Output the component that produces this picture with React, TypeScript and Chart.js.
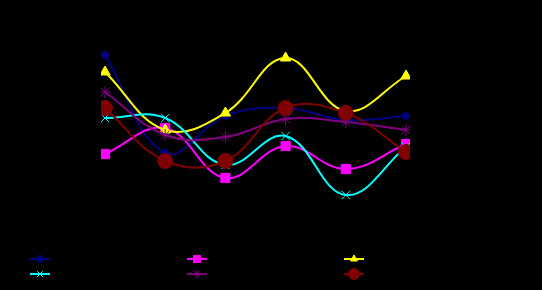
import React, { useEffect, useRef } from "react";
import { Chart, registerables } from "chart.js";
import * as helpers from "chart.js/helpers";

Chart.register(...registerables);

const categories = ["1", "2", "3", "4", "5", "6"];
const seriesNames = ["Series 1", "Series 2", "Series 3", "Series 4", "Series 5", "Series 6"];
const navyValues = [87.5, 38.5, 57, 61, 55, 57];
const magentaValues = [38, 51, 26, 42, 30.5, 43];
const yellowValues = [79, 50, 58.5, 86, 59.5, 77];
const cyanValues = [56, 56, 32.5, 47, 17.5, 41.5];
const purpleValues = [69, 47.5, 46.5, 55.5, 54, 50];
const darkRedValues = [61, 34.5, 34.5, 61, 58.5, 39];

const colors = ["#000080", "#FF00FF", "#FFFF00", "#00FFFF", "#800080", "#800000"];
const pointStyles = ["rectRot", "rect", "triangle", "crossRot", "star", "circle"];
const radii = [4.5, 6.5, 6, 6, 6, 7.5];
const values = [navyValues, magentaValues, yellowValues, cyanValues, purpleValues, darkRedValues];

const legendPlugin = {
  id: "customLegend",
  afterDraw(chart: any) {
    const ctx = chart.ctx;
    const colX = [30, 187, 344];
    const rowY = [259, 274];
    chart.data.datasets.forEach((ds: any, i: number) => {
      const x = colX[i % 3];
      const y = rowY[Math.floor(i / 3)];
      ctx.save();
      ctx.strokeStyle = ds.borderColor;
      ctx.lineWidth = 2;
      ctx.beginPath();
      ctx.moveTo(x, y);
      ctx.lineTo(x + 20, y);
      ctx.stroke();
      ctx.fillStyle = ds.backgroundColor;
      ctx.strokeStyle = ds.borderColor;
      ctx.lineWidth = 1;
      const r = i === 5 ? 5.5 : i === 1 ? 5 : 4;
      helpers.drawPoint(ctx, { pointStyle: ds.pointStyle, radius: r, rotation: 0, borderWidth: 1 } as any, x + 10, y);
      ctx.fillStyle = "#000000";
      ctx.font = "11px Arial, 'Liberation Sans', sans-serif";
      ctx.textBaseline = "middle";
      ctx.fillText(ds.label, x + 26, y);
      ctx.restore();
    });
  },
};

export default function App() {
  const ref = useRef<HTMLCanvasElement>(null);
  useEffect(() => {
    if (!ref.current) return;
    const chart = new Chart(ref.current, {
      type: "line",
      data: {
        labels: categories,
        datasets: values.map((v, i) => ({
          label: seriesNames[i],
          data: v,
          borderColor: colors[i],
          backgroundColor: colors[i],
          pointBackgroundColor: colors[i],
          pointBorderColor: colors[i],
          pointStyle: pointStyles[i] as any,
          pointRadius: radii[i],
          pointBorderWidth: 1,
          borderWidth: 2,
          tension: 0.4,
          fill: false,
          order: 5 - i,
          clip: { left: 4, right: 4, top: 20, bottom: 20 } as any,
        })),
      },
      options: {
        responsive: false,
        animation: false,
        layout: { padding: { left: 105, right: 136, top: 30, bottom: 60 } },
        scales: {
          x: { type: "category", offset: false, display: false },
          y: { min: 0, max: 100, display: false },
        },
        plugins: { legend: { display: false }, tooltip: { enabled: false } },
      },
      plugins: [legendPlugin],
    });
    return () => chart.destroy();
  }, []);
  return (
    <div style={{ position: "fixed", left: 0, top: 0, width: 542, height: 290, background: "#000" }}>
      <canvas ref={ref} width={542} height={290} style={{ width: 542, height: 290, display: "block" }} />
    </div>
  );
}
